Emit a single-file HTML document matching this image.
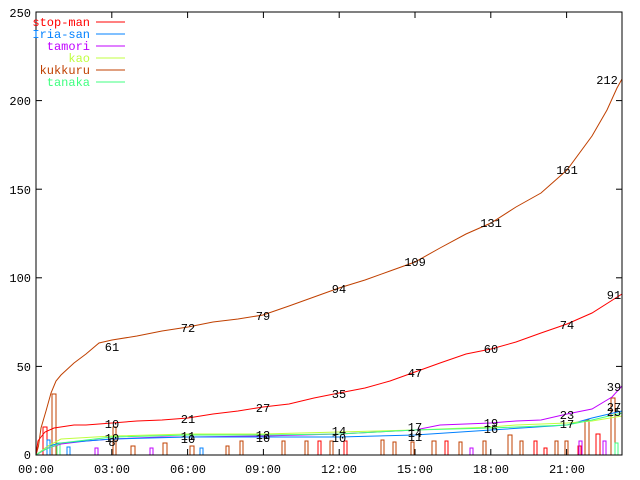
<!DOCTYPE html>
<html><head><meta charset="utf-8"><style>
html,body{margin:0;padding:0;background:#fff;width:640px;height:480px;overflow:hidden}
text{font-family:"Liberation Mono","DejaVu Sans Mono",monospace;font-size:12px}
</style></head><body>
<svg width="640" height="480" xmlns="http://www.w3.org/2000/svg">
<rect x="0" y="0" width="640" height="480" fill="#fff"/>
<g fill="none" stroke-width="1">
<rect x="43" y="427" width="4" height="28" stroke="#f00"/>
<rect x="52" y="394" width="4" height="61" stroke="#c04000"/>
<rect x="47" y="440" width="3" height="15" stroke="#0080ff"/>
<rect x="57" y="443" width="3" height="12" stroke="#40ff80"/>
<rect x="113" y="427" width="3" height="28" stroke="#c04000"/>
<rect x="67" y="447" width="3" height="8" stroke="#0080ff"/>
<rect x="131" y="446" width="4" height="9" stroke="#c04000"/>
<rect x="163" y="443" width="4" height="12" stroke="#c04000"/>
<rect x="190" y="446" width="4" height="9" stroke="#c04000"/>
<rect x="226" y="446" width="3" height="9" stroke="#c04000"/>
<rect x="240" y="441" width="3" height="14" stroke="#c04000"/>
<rect x="282" y="441" width="3" height="14" stroke="#c04000"/>
<rect x="305" y="441" width="3" height="14" stroke="#c04000"/>
<rect x="318" y="441" width="3" height="14" stroke="#f00"/>
<rect x="330" y="441" width="3" height="14" stroke="#c04000"/>
<rect x="344" y="441" width="3" height="14" stroke="#f00"/>
<rect x="381" y="440" width="3" height="15" stroke="#c04000"/>
<rect x="393" y="442" width="3" height="13" stroke="#c04000"/>
<rect x="411" y="442" width="3" height="13" stroke="#c04000"/>
<rect x="432" y="441" width="4" height="14" stroke="#c04000"/>
<rect x="445" y="441" width="3" height="14" stroke="#f00"/>
<rect x="459" y="442" width="3" height="13" stroke="#c04000"/>
<rect x="483" y="441" width="3" height="14" stroke="#c04000"/>
<rect x="508" y="435" width="4" height="20" stroke="#c04000"/>
<rect x="520" y="441" width="3" height="14" stroke="#c04000"/>
<rect x="534" y="441" width="3" height="14" stroke="#f00"/>
<rect x="544" y="448" width="3" height="7" stroke="#f00"/>
<rect x="555" y="441" width="3" height="14" stroke="#c04000"/>
<rect x="565" y="441" width="3" height="14" stroke="#c04000"/>
<rect x="578" y="446" width="3" height="9" stroke="#f00"/>
<rect x="579" y="441" width="3" height="14" stroke="#c000ff"/>
<rect x="585" y="420" width="4" height="35" stroke="#c04000"/>
<rect x="596" y="434" width="4" height="21" stroke="#f00"/>
<rect x="603" y="441" width="3" height="14" stroke="#c000ff"/>
<rect x="611" y="398" width="4" height="57" stroke="#c04000"/>
<rect x="615" y="443" width="3" height="12" stroke="#40ff80"/>
<rect x="200" y="448" width="3" height="7" stroke="#0080ff"/>
<rect x="95" y="448" width="3" height="7" stroke="#c000ff"/>
<rect x="150" y="448" width="3" height="7" stroke="#c000ff"/>
<rect x="470" y="448" width="3" height="7" stroke="#c000ff"/>
</g>
<g fill="none" stroke-width="1">
<polyline stroke="#c04000" points="36,455 38.5,446 41,428 46,411 51,393 56,381 61,375 74,363 86,354 99,343 112,340 137,336 162,331 188,327 213,322 238,319 263,315 289,306 314,297 339,288 365,280 390,271 415,262 440,248 466,234 491,223 516,207 541,193 567,170 592,136 607,110 617,88 622,79"/>
<polyline stroke="#f00" points="36,455 38,441 41,437 45,432 54,428 74,425 86,425 112,423 137,421 162,420 188,418 213,414 238,411 263,407 289,404 314,398 339,393 365,388 390,381 415,372 440,363 466,354 491,349 516,342 541,333 567,324 592,313 622,294"/>
<polyline stroke="#c000ff" points="36,455 48,448 61,444 86,441 112,439 162,437 188,437 263,436 339,434 415,430 440,425 491,423 516,421 541,420 567,414 592,409 612,397 622,386"/>
<polyline stroke="#0080ff" points="36,455 48,446 61,443 112,439 188,437 263,437 339,437 415,435 491,430 567,425 592,418 622,411"/>
<polyline stroke="#c0ff40" points="36,455 48,446 61,439 112,436 188,434 263,434 339,432 415,430 491,427 516,425 567,423 592,421 622,416"/>
<polyline stroke="#40ff80" points="36,455 44,450 61,443 112,437 188,435 263,435 339,434 415,430 491,428 567,425 592,420 622,413"/>
</g>
<rect x="36" y="12" width="586" height="443" fill="none" stroke="#000" stroke-width="1"/>
<g stroke="#000" stroke-width="1">
<line x1="36" y1="366.4" x2="42" y2="366.4"/><line x1="622" y1="366.4" x2="616" y2="366.4"/>
<line x1="36" y1="277.8" x2="42" y2="277.8"/><line x1="622" y1="277.8" x2="616" y2="277.8"/>
<line x1="36" y1="189.2" x2="42" y2="189.2"/><line x1="622" y1="189.2" x2="616" y2="189.2"/>
<line x1="36" y1="100.6" x2="42" y2="100.6"/><line x1="622" y1="100.6" x2="616" y2="100.6"/>
<line x1="111.8" y1="455" x2="111.8" y2="449"/><line x1="111.8" y1="12" x2="111.8" y2="18"/>
<line x1="187.6" y1="455" x2="187.6" y2="449"/><line x1="187.6" y1="12" x2="187.6" y2="18"/>
<line x1="263.4" y1="455" x2="263.4" y2="449"/><line x1="263.4" y1="12" x2="263.4" y2="18"/>
<line x1="339.2" y1="455" x2="339.2" y2="449"/><line x1="339.2" y1="12" x2="339.2" y2="18"/>
<line x1="415" y1="455" x2="415" y2="449"/><line x1="415" y1="12" x2="415" y2="18"/>
<line x1="490.8" y1="455" x2="490.8" y2="449"/><line x1="490.8" y1="12" x2="490.8" y2="18"/>
<line x1="566.6" y1="455" x2="566.6" y2="449"/><line x1="566.6" y1="12" x2="566.6" y2="18"/>
</g>
<g text-anchor="end" fill="#000">
<text x="31" y="459">0</text><text x="31" y="371">50</text><text x="31" y="282">100</text>
<text x="31" y="194">150</text><text x="31" y="105">200</text><text x="31" y="17">250</text>
</g>
<g text-anchor="middle" fill="#000">
<text x="36" y="473">00:00</text><text x="112" y="473">03:00</text><text x="188" y="473">06:00</text>
<text x="263" y="473">09:00</text><text x="339" y="473">12:00</text><text x="415" y="473">15:00</text>
<text x="491" y="473">18:00</text><text x="567" y="473">21:00</text>
</g>
<g text-anchor="end">
<text x="90" y="26" fill="#f00">stop-man</text>
<text x="90" y="38" fill="#0080ff">Iria-san</text>
<text x="90" y="50" fill="#c000ff">tamori</text>
<text x="90" y="62" fill="#c0ff40">kao</text>
<text x="90" y="74" fill="#c04000">kukkuru</text>
<text x="90" y="86" fill="#40ff80">tanaka</text>
</g>
<g stroke-width="1">
<line x1="96" y1="22" x2="125" y2="22" stroke="#f00"/>
<line x1="96" y1="34" x2="125" y2="34" stroke="#0080ff"/>
<line x1="96" y1="46" x2="125" y2="46" stroke="#c000ff"/>
<line x1="96" y1="58" x2="125" y2="58" stroke="#c0ff40"/>
<line x1="96" y1="70" x2="125" y2="70" stroke="#c04000"/>
<line x1="96" y1="82" x2="125" y2="82" stroke="#40ff80"/>
</g>
<g text-anchor="middle" fill="#000">
<text x="112" y="351">61</text><text x="188" y="332">72</text><text x="263" y="320">79</text>
<text x="339" y="293">94</text><text x="415" y="266">109</text><text x="491" y="227">131</text>
<text x="567" y="174">161</text><text x="607" y="84">212</text>
<text x="112" y="428">10</text><text x="188" y="423">21</text><text x="263" y="412">27</text>
<text x="339" y="398">35</text><text x="415" y="377">47</text><text x="491" y="353">60</text>
<text x="567" y="329">74</text><text x="614" y="299">91</text><text x="614" y="391">39</text>
<text x="112" y="442">10</text><text x="112" y="446">8</text>
<text x="188" y="440">11</text><text x="188" y="443">10</text>
<text x="263" y="439">12</text><text x="263" y="442">10</text>
<text x="339" y="435">14</text><text x="339" y="442">10</text>
<text x="415" y="431">17</text><text x="415" y="437">14</text><text x="415" y="441">11</text>
<text x="491" y="427">19</text><text x="491" y="433">16</text>
<text x="567" y="419">23</text><text x="567" y="428">17</text>
<text x="614" y="411">27</text><text x="614" y="416">25</text>
</g>
</svg>
</body></html>
